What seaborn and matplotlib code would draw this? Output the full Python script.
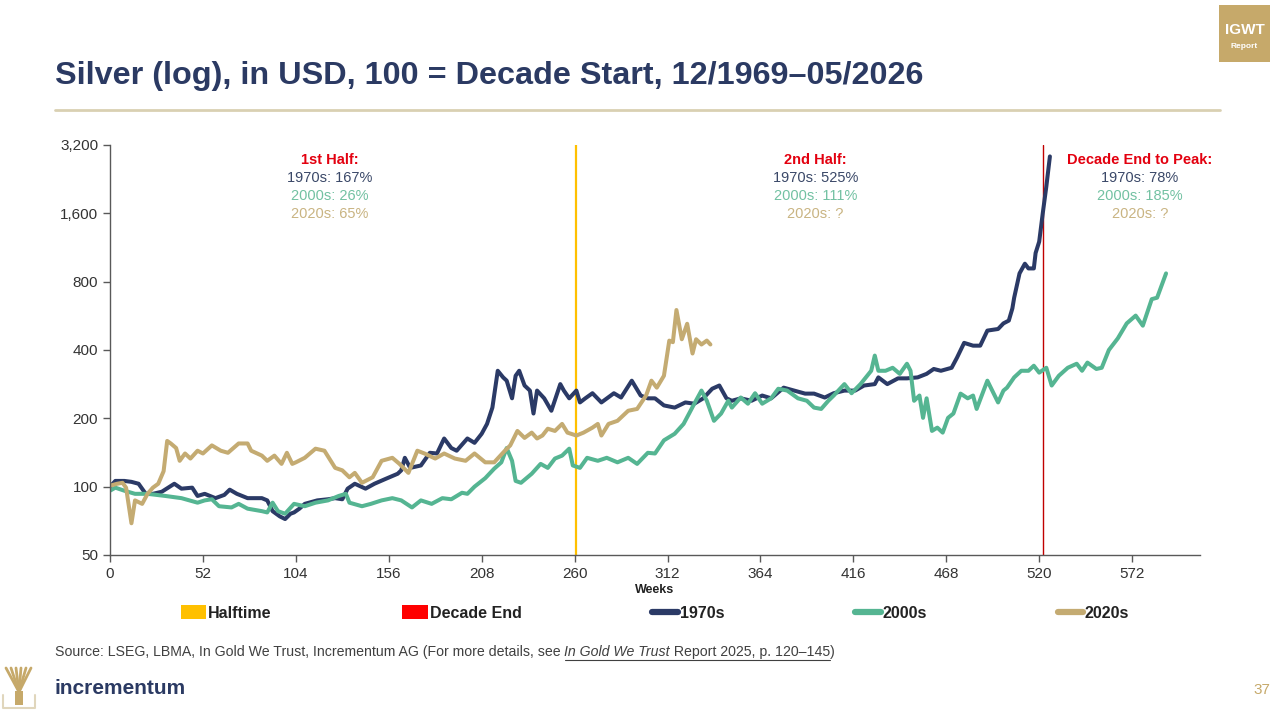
import matplotlib.pyplot as plt
import seaborn as sns
import pandas as pd
from matplotlib.patches import Patch, Rectangle
from matplotlib.lines import Line2D

sns.set_style("ticks")
plt.rcParams["font.family"] = ["Liberation Sans", "DejaVu Sans"]

# ---- data (100 = decade start) ----
weeks_1970s = [0, 3, 8, 12, 16, 20, 24, 29, 36, 40, 46, 49, 53, 59, 64, 67, 71, 77, 85, 88,
               91, 95, 98, 101, 103, 106, 109, 116, 122, 126, 130, 133, 137, 143, 148, 154,
               161, 163, 165, 168, 174, 179, 183, 187, 191, 194, 200, 204, 208, 211, 214,
               217, 220, 222, 225, 227, 229, 232, 235, 237, 239, 243, 247, 252, 254, 257,
               261, 263, 266, 270, 275, 282, 286, 292, 297, 301, 305, 310, 316, 322, 327,
               332, 337, 341, 345, 348, 353, 359, 365, 370, 377, 383, 389, 394, 400, 405,
               411, 417, 422, 428, 430, 435, 441, 446, 452, 457, 461, 465, 471, 474, 478,
               483, 487, 491, 497, 500, 503, 505, 506, 509, 512, 514, 517, 518, 520, 522,
               524, 526]
values_1970s = [100, 106, 106, 105, 103, 93, 93, 95, 103, 98, 99, 91, 93, 89, 92, 97, 93, 89,
                89, 87, 78, 74, 72, 76, 77, 80, 84, 87, 88, 89, 88, 98, 103, 98, 103, 108,
                114, 118, 134, 121, 124, 141, 140, 163, 148, 144, 163, 156, 171, 189, 223,
                324, 303, 293, 245, 308, 324, 279, 265, 210, 265, 245, 216, 283, 265, 245,
                265, 235, 245, 258, 235, 258, 247, 293, 252, 245, 245, 228, 223, 235, 232,
                245, 270, 279, 245, 239, 245, 239, 252, 245, 273, 265, 257, 257, 247, 258,
                265, 265, 279, 283, 303, 283, 300, 300, 303, 314, 330, 324, 334, 370, 430,
                418, 418, 487, 495, 524, 539, 610, 680, 870, 960, 915, 915, 1070, 1200, 1600,
                2100, 2850]

weeks_2000s = [0, 3, 8, 14, 21, 31, 40, 49, 53, 57, 61, 68, 72, 77, 85, 88, 91, 94, 98, 103,
               109, 115, 122, 128, 132, 134, 141, 146, 152, 158, 163, 169, 174, 180, 186,
               191, 197, 200, 204, 210, 215, 219, 222, 225, 227, 230, 236, 241, 245, 249,
               253, 257, 259, 263, 267, 273, 278, 284, 290, 295, 301, 305, 310, 316, 321,
               327, 331, 334, 338, 342, 346, 348, 353, 357, 361, 365, 370, 374, 379, 385,
               390, 394, 398, 402, 405, 411, 415, 420, 426, 428, 430, 434, 438, 442, 446,
               448, 450, 453, 455, 457, 460, 463, 466, 469, 472, 476, 480, 483, 485, 491,
               497, 500, 502, 506, 510, 514, 517, 520, 524, 527, 531, 536, 541, 544, 547,
               552, 555, 559, 564, 569, 574, 578, 583, 586, 591]
values_2000s = [96, 99, 96, 93, 93, 91, 89, 85, 87, 88, 82, 81, 84, 80, 78, 77, 85, 78, 76, 84,
                82, 85, 87, 91, 93, 85, 82, 84, 87, 89, 87, 81, 87, 84, 89, 88, 94, 93, 100,
                109, 120, 128, 148, 130, 106, 104, 114, 126, 121, 133, 137, 147, 124, 121,
                134, 130, 134, 128, 134, 126, 141, 140, 160, 171, 189, 232, 265, 239, 195,
                210, 239, 223, 247, 232, 258, 232, 245, 270, 265, 245, 239, 223, 220, 239,
                252, 283, 258, 283, 324, 378, 324, 324, 334, 314, 348, 324, 239, 252, 201,
                245, 176, 182, 173, 201, 210, 257, 245, 252, 220, 293, 235, 265, 273, 303,
                324, 324, 341, 318, 334, 279, 308, 334, 348, 324, 352, 330, 334, 400, 450,
                524, 567, 512, 670, 680, 870]

weeks_2020s = [0, 4, 7, 9, 12, 14, 18, 21, 24, 27, 30, 32, 34, 37, 39, 42, 45, 49, 52, 57, 62,
               66, 72, 77, 79, 85, 88, 92, 96, 99, 102, 104, 109, 115, 120, 126, 130, 134,
               137, 141, 147, 152, 158, 162, 167, 172, 176, 182, 187, 193, 199, 204, 210,
               215, 221, 224, 228, 232, 236, 239, 242, 245, 249, 253, 256, 261, 265, 270,
               273, 275, 279, 284, 290, 295, 300, 303, 306, 310, 313, 315, 317, 320, 323,
               326, 328, 331, 334, 336]
values_2020s = [101, 103, 104, 99, 69, 87, 84, 93, 99, 103, 117, 159, 155, 148, 130, 140, 133,
                144, 140, 152, 144, 141, 155, 155, 144, 137, 130, 137, 126, 141, 126, 128,
                134, 147, 144, 121, 118, 110, 115, 104, 110, 130, 134, 126, 115, 144, 140,
                133, 140, 133, 130, 140, 128, 128, 144, 152, 176, 164, 173, 163, 168, 180,
                176, 189, 173, 168, 173, 182, 189, 168, 189, 195, 216, 220, 252, 293, 273,
                308, 440, 433, 600, 446, 522, 386, 446, 423, 440, 423]

decades = ["1970s", "2000s", "2020s"]
decade_colors = ["#2b3a66", "#55b592", "#c4ab72"]
halftime_week = 261
decade_end_week = 522

y_ticks = [50, 100, 200, 400, 800, 1600, 3200]
y_tick_labels = ["50", "100", "200", "400", "800", "1,600", "3,200"]
x_ticks = [0, 52, 104, 156, 208, 260, 312, 364, 416, 468, 520, 572]

annotations = [
    ("1st Half:", ["1970s: 167%", "2000s: 26%", "2020s: 65%"]),
    ("2nd Half:", ["1970s: 525%", "2000s: 111%", "2020s: ?"]),
    ("Decade End to Peak:", ["1970s: 78%", "2000s: 185%", "2020s: ?"]),
]
annot_text_colors = ["#3a4868", "#72c1a2", "#c9b482"]

TITLE = "Silver (log), in USD, 100 = Decade Start, 12/1969\u201305/2026"
NAVY = "#2b3a63"
GOLD = "#c6a96a"

df = pd.concat([
    pd.DataFrame({"week": weeks_1970s, "value": values_1970s, "decade": "1970s"}),
    pd.DataFrame({"week": weeks_2000s, "value": values_2000s, "decade": "2000s"}),
    pd.DataFrame({"week": weeks_2020s, "value": values_2020s, "decade": "2020s"}),
])


def fx(px):
    return px / 1280


def fy(py):
    return 1 - py / 710


fig = plt.figure(figsize=(12.8, 7.1), dpi=100)
ax = fig.add_axes([fx(110), fy(555), fx(1200) - fx(110), fy(145) - fy(555)])

sns.lineplot(data=df, x="week", y="value", hue="decade", hue_order=decades,
             palette=decade_colors, linewidth=2.9, legend=False, ax=ax)

ax.axvline(halftime_week, color="#ffc000", lw=1.6, zorder=1)
ax.axvline(decade_end_week, color="#c00000", lw=1.0, zorder=1)

ax.set_yscale("log")
ax.set_ylim(50, 3200)
ax.set_xlim(0, 610)
ax.set_yticks(y_ticks)
ax.set_yticklabels(y_tick_labels)
ax.yaxis.set_minor_locator(plt.NullLocator())
ax.set_xticks(x_ticks)
ax.set_xticklabels([str(t) for t in x_ticks])
ax.tick_params(axis="both", labelsize=11, colors="#595959", labelcolor="#333333",
               length=5, width=1, direction="out")
ax.set_xlabel("Weeks", fontsize=9, fontweight="bold", color="#222222", labelpad=2)
ax.set_ylabel("")
for side in ["top", "right"]:
    ax.spines[side].set_visible(False)
for side in ["left", "bottom"]:
    ax.spines[side].set_color("#595959")
    ax.spines[side].set_linewidth(1)

# annotations
annot_x = [0.2018, 0.647, 0.945]
annot_y = [0.963, 0.919, 0.875, 0.831]
for (head, lines), xa in zip(annotations, annot_x):
    ax.text(xa, annot_y[0], head, transform=ax.transAxes, ha="center", va="center",
            fontsize=10.5, fontweight="bold", color="#e3000f")
    for ln, ya, c in zip(lines, annot_y[1:], annot_text_colors):
        ax.text(xa, ya, ln, transform=ax.transAxes, ha="center", va="center",
                fontsize=10.5, color=c)

# legend
handles = [
    Patch(facecolor="#ffc000", edgecolor="none", label="Halftime"),
    Patch(facecolor="#ff0000", edgecolor="none", label="Decade End"),
]
for d, c in zip(decades, decade_colors):
    handles.append(Line2D([0], [0], color=c, lw=4.5, label=d))
leg = fig.legend(handles=handles, loc="center", bbox_to_anchor=(fx(655), fy(613)),
                 ncol=5, frameon=False, fontsize=11.5, handlelength=1.6,
                 handleheight=0.9, handletextpad=0.1, columnspacing=8.2)
for t in leg.get_texts():
    t.set_fontweight("bold")
    t.set_color("#222222")

# title and header rule
fig.text(fx(55), fy(76), TITLE, fontsize=23.3, fontweight="bold", color=NAVY, va="center")
fig.add_artist(Line2D([fx(55), fx(1220)], [fy(110), fy(110)], color="#d9d0b2", lw=2))

# IGWT badge
fig.add_artist(Rectangle((fx(1219), fy(62)), fx(51), 57 / 710, facecolor=GOLD,
                         edgecolor="none"))
fig.text(fx(1244.5), fy(30), "IGWT", fontsize=11, fontweight="bold", color="white",
         ha="center", va="center")
fig.text(fx(1244.5), fy(46), "Report", fontsize=6, fontweight="bold", color="white",
         ha="center", va="center")

# source line
fig.canvas.draw()
renderer = fig.canvas.get_renderer()
src_parts = [
    ("Source: LSEG, LBMA, In Gold We Trust, Incrementum AG (For more details, see ",
     "normal", False),
    ("In Gold We Trust", "italic", True),
    (" Report 2025, p. 120\u2013145", "normal", True),
    (")", "normal", False),
]
x_cur = 55
for txt, style, underline in src_parts:
    t = fig.text(fx(x_cur), fy(652), txt, fontsize=10.2, style=style, color="#404040",
                 va="center")
    bb = t.get_window_extent(renderer)
    if underline:
        fig.add_artist(Line2D([fx(x_cur), fx(x_cur + bb.width)], [fy(660), fy(660)],
                              color="#404040", lw=0.8))
    x_cur += bb.width

# incrementum logo
fig.text(fx(55), fy(688), "incrementum", fontsize=15, fontweight="bold", color=NAVY,
         va="center")
for dx in [6, 11, 16, 21, 26, 31]:
    fig.add_artist(Line2D([fx(19), fx(dx)], [fy(692), fy(668)], color=GOLD, lw=2))
fig.add_artist(Rectangle((fx(15), fy(705)), fx(8), 14 / 710, facecolor=GOLD,
                         edgecolor="none"))
fig.add_artist(Line2D([fx(3), fx(3), fx(35), fx(35)], [fy(695), fy(708), fy(708), fy(695)],
                      color="#e0d6bc", lw=1.5))

# page number
fig.text(fx(1270), fy(690), "37", fontsize=11, color=GOLD, ha="right", va="center")

fig.savefig("out.png", dpi=100)
